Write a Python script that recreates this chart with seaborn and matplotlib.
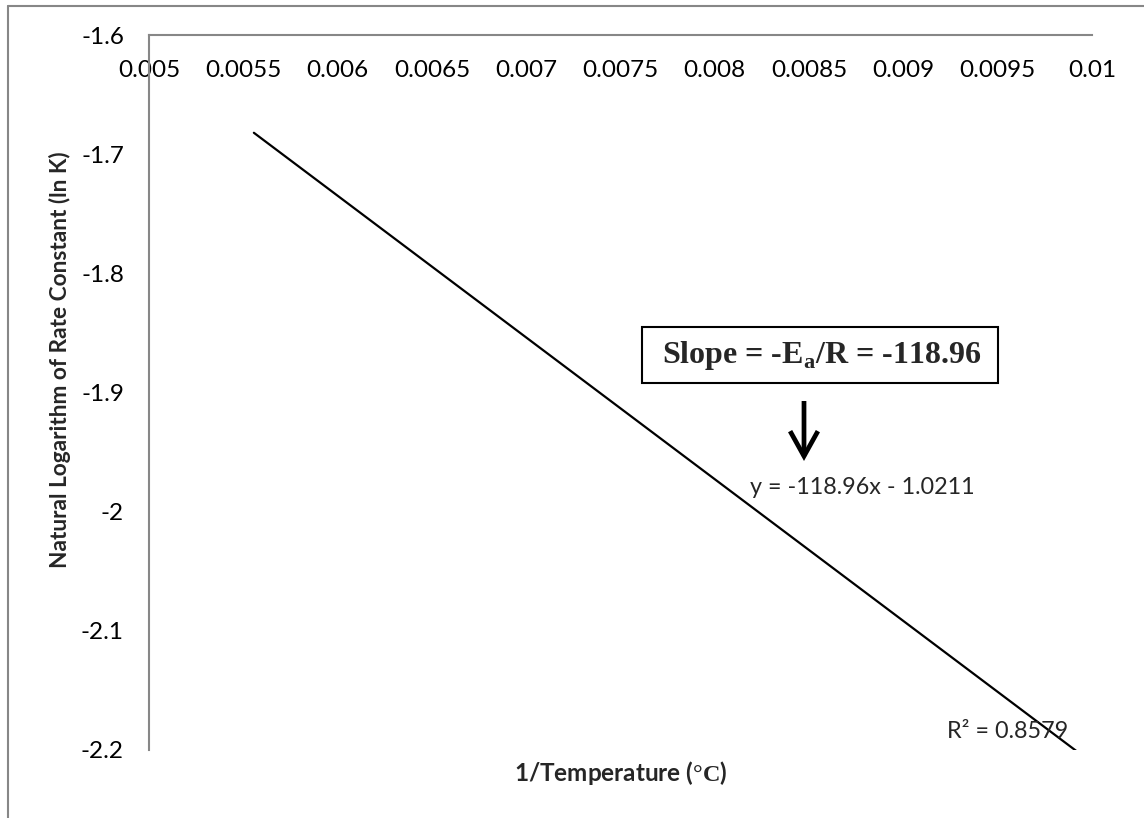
import numpy as np
import pandas as pd
import matplotlib
matplotlib.use("Agg")
import matplotlib.pyplot as plt
from matplotlib.lines import Line2D
from matplotlib.patches import Rectangle, FancyArrowPatch
import seaborn as sns

# Linear fit of ln K against 1/T (Arrhenius plot)
slope = -118.96
intercept = -1.0211
r_squared = 0.8579
inv_temp_range = [0.005556, 0.01]

x_ticks = [0.005, 0.0055, 0.006, 0.0065, 0.007, 0.0075, 0.008, 0.0085, 0.009, 0.0095, 0.01]
x_tick_labels = ["0.005", "0.0055", "0.006", "0.0065", "0.007", "0.0075",
                 "0.008", "0.0085", "0.009", "0.0095", "0.01"]
y_ticks = [-1.6, -1.7, -1.8, -1.9, -2.0, -2.1, -2.2]
y_tick_labels = ["-1.6", "-1.7", "-1.8", "-1.9", "-2", "-2.1", "-2.2"]

trend = pd.DataFrame({"inv_T": inv_temp_range})
trend["lnK"] = slope * trend["inv_T"] + intercept

sns.set_theme(style="white")
plt.rcParams["font.family"] = ["Lato", "DejaVu Sans"]
plt.rcParams["mathtext.fontset"] = "custom"
plt.rcParams["mathtext.rm"] = "Liberation Serif"
plt.rcParams["mathtext.bf"] = "Liberation Serif:bold"

W, H = 1144, 818
fig = plt.figure(figsize=(W / 100, H / 100), dpi=100)
fig.patch.set_facecolor("white")
ax = fig.add_axes([149 / W, 1 - 750 / H, (1092 - 149) / W, (750 - 35) / H])

sns.lineplot(data=trend, x="inv_T", y="lnK", ax=ax, color="black", lw=1.6)

ax.set_xlim(0.005, 0.01)
ax.set_ylim(-2.2, -1.6)

grey = "#878787"
for side in ["bottom", "right"]:
    ax.spines[side].set_visible(False)
for side in ["top", "left"]:
    ax.spines[side].set_color(grey)
    ax.spines[side].set_linewidth(1.5)

ax.set_xticks(x_ticks)
ax.set_xticklabels(x_tick_labels)
ax.set_yticks(y_ticks)
ax.set_yticklabels(y_tick_labels)
ax.tick_params(axis="x", top=True, labeltop=True, bottom=False, labelbottom=False,
               length=0, pad=-33, labelsize=17.5, labelcolor="black")
ax.tick_params(axis="y", length=0, pad=18, labelsize=17.5, labelcolor="black")

ax.set_xlabel("1/Temperature ($\\mathbf{°C}$)", fontsize=17.5, fontweight="bold", va="center")
ax.xaxis.set_label_coords(0.5, -0.032)
ax.set_ylabel("Natural Logarithm of Rate Constant (ln K)", fontsize=16.3,
              fontweight="bold", va="center")
ax.yaxis.set_label_coords(-(149 - 60) / (1092 - 149), 0.5 + (392 - 359.5) / 715)


def fpx(x, y):
    return (x / W, 1 - y / H)


# fit equation and R² labels
ax.text(*fpx(750, 487), f"y = {slope}x - {abs(intercept)}", transform=fig.transFigure,
        fontsize=16.8, ha="left", va="center")
ax.text(*fpx(947, 732), f"R² = {r_squared}", transform=fig.transFigure,
        fontsize=16.8, ha="left", va="center")

# boxed slope callout and arrow
box = Rectangle(fpx(642, 383), (998 - 642) / W, (383 - 327) / H,
                transform=fig.transFigure, fill=False, ec="black", lw=1.5)
fig.add_artist(box)
fig.text(*fpx(822, 355), f"Slope = -E$_\\mathbf{{a}}$/R = {slope}",
         family="Liberation Serif", fontweight="bold", fontsize=23,
         ha="center", va="center")
fig.add_artist(FancyArrowPatch(
    fpx(804, 401), fpx(804, 461), transform=fig.transFigure,
    arrowstyle="->,head_length=9,head_width=5", lw=3.4, color="black",
    shrinkA=0, shrinkB=0, mutation_scale=2, capstyle="butt", joinstyle="miter"))

# chart area border
fig.add_artist(Line2D([8 / W, 8 / W], [0, 1 - 6 / H], transform=fig.transFigure,
                      color=grey, lw=1.5))
fig.add_artist(Line2D([8 / W, 1], [1 - 6 / H, 1 - 6 / H], transform=fig.transFigure,
                      color=grey, lw=1.5))

fig.savefig("out.png", dpi=100, facecolor="white")
